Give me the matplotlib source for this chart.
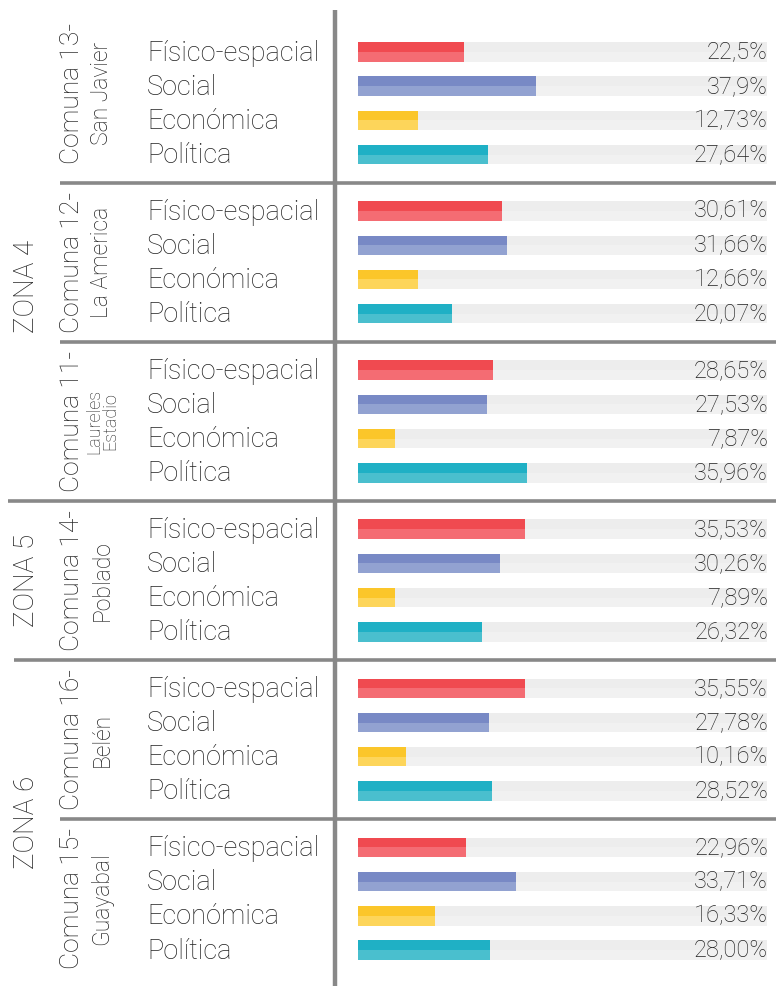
import matplotlib.pyplot as plt
from matplotlib.transforms import blended_transform_factory

# data
zones = ["ZONA 4", "ZONA 5", "ZONA 6"]
zone_sizes = [3, 1, 2]
comunas = ["Comuna 13-", "Comuna 12-", "Comuna 11-", "Comuna 14-", "Comuna 16-", "Comuna 15-"]
barrios = ["San Javier", "La America", "Laureles\nEstadio", "Poblado", "Belén", "Guayabal"]
dims = ["Físico-espacial", "Social", "Económica", "Política"]
values = [
    [22.5, 37.9, 12.73, 27.64],
    [30.61, 31.66, 12.66, 20.07],
    [28.65, 27.53, 7.87, 35.96],
    [35.53, 30.26, 7.89, 26.32],
    [35.55, 27.78, 10.16, 28.52],
    [22.96, 33.71, 16.33, 28.00],
]
labels = [
    ["22,5%", "37,9%", "12,73%", "27,64%"],
    ["30,61%", "31,66%", "12,66%", "20,07%"],
    ["28,65%", "27,53%", "7,87%", "35,96%"],
    ["35,53%", "30,26%", "7,89%", "26,32%"],
    ["35,55%", "27,78%", "10,16%", "28,52%"],
    ["22,96%", "33,71%", "16,33%", "28,00%"],
]

dark = ["#f04a50", "#7889c5", "#fbc62a", "#1fb0c5"]
light = ["#f46c73", "#92a2d1", "#fdd55a", "#4abfce"]

W, H = 776, 986
plt.rcParams['font.family'] = ['Roboto', 'DejaVu Sans']
fig = plt.figure(figsize=(W / 100, H / 100), dpi=100)
ax = fig.add_axes([0, 0, 1, 1])
ax.axis('off')

# pixel layout
x0, ppx = 358, 4.7          # bar origin in px, px per percent
track_end = (767 - x0) / ppx
gap = 0.65
ppu = (950 - 52) / (5 * (4 + gap) + 3)
ax.set_xlim(-x0 / ppx, (W - x0) / ppx)
ax.set_ylim(26.25 + (H - 950) / ppu, -52 / ppu)

fx = blended_transform_factory(fig.transFigure, ax.transData)
txt = "#222222"
lc = "#888888"
bh = 0.57
fw = 'light'
comuna_nudge = [-0.3, 0, 0, 0, 0, 0]

def px(x):
    return x / W

for g, (vals, labs) in enumerate(zip(values, labels)):
    base = g * (4 + gap)
    ys = [base + j for j in range(4)]
    ax.barh(ys, [track_end] * 4, height=bh, color="#f1f1f1")
    ax.barh([y - bh / 4 for y in ys], [track_end] * 4, height=bh / 2, color="#ededed")
    ax.barh(ys, vals, height=bh, color=light)
    ax.barh([y - bh / 4 for y in ys], vals, height=bh / 2, color=dark)
    for j, y in enumerate(ys):
        ax.text(px(147), y + 0.03, dims[j], transform=fx, ha='left', va='center',
                fontsize=19.5, fontweight=fw, color=txt)
        ax.text(px(768), y, labs[j], transform=fx, ha='right', va='center',
                fontsize=17, fontweight=fw, color=txt)
    mid = base + 1.5 + comuna_nudge[g]
    ax.text(px(72), mid, comunas[g], transform=fx, rotation=90, ha='center', va='center',
            fontsize=19, fontweight=fw, color=txt)
    small = "\n" in barrios[g]
    ax.text(px(102), mid, barrios[g], transform=fx, rotation=90, ha='center', va='center',
            fontsize=13 if small else 16.5, fontweight=fw, color=txt,
            linespacing=0.85, multialignment='center')

# separators
zone_ends = [sum(zone_sizes[:i + 1]) for i in range(len(zone_sizes))]
zone_starts = [8, 14]
k = 0
for g in range(len(values) - 1):
    ysep = g * (4 + gap) + 3 + (1 + gap) / 2
    if g + 1 in zone_ends:
        xs = zone_starts[k]
        k += 1
    else:
        xs = 60
    ax.plot([px(xs), 1], [ysep, ysep], transform=fx, color=lc, lw=2.6, solid_capstyle='butt')

# vertical axis line
ytop = ax.get_ylim()[1] + 10 / ppu
ax.plot([px(334.5), px(334.5)], [ytop, ax.get_ylim()[0]], transform=fx, color=lc, lw=3.2,
        solid_capstyle='butt')

# zone labels
zone_nudge = [0.7, 0.0, 0.1]
start = 0
for zname, n, dy in zip(zones, zone_sizes, zone_nudge):
    first = start * (4 + gap)
    last = (start + n - 1) * (4 + gap) + 3
    ax.text(px(26), (first + last) / 2 + dy, zname, transform=fx, rotation=90, ha='center',
            va='center', fontsize=20, fontweight=fw, color=txt)
    start += n

fig.savefig("out.png", dpi=100)
